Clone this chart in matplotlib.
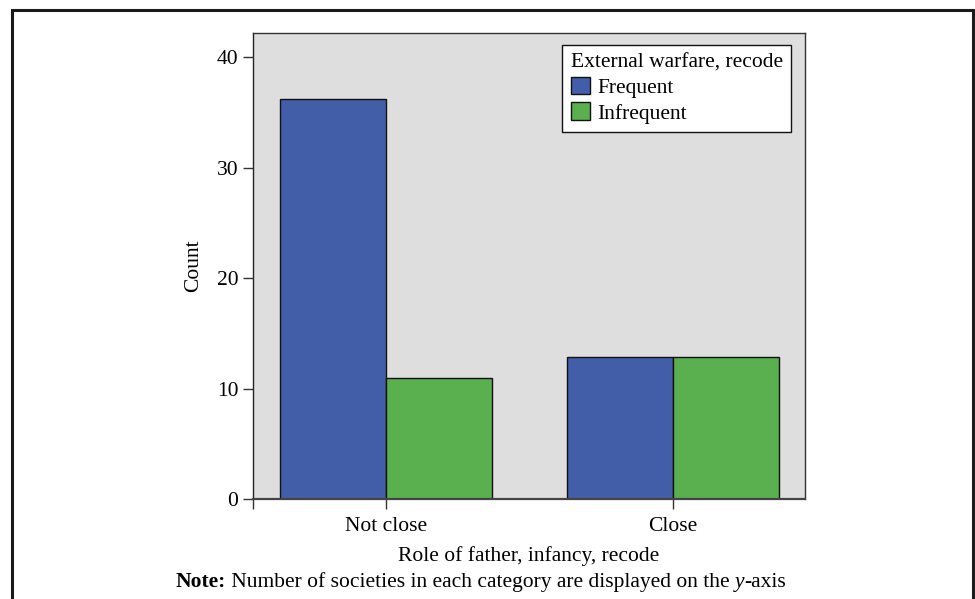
import matplotlib.pyplot as plt
import numpy as np
from matplotlib.patches import Rectangle

plt.rcParams['font.family'] = ['Liberation Serif', 'DejaVu Serif']

# data
categories = ['Not close', 'Close']
frequent = [36.2, 12.9]
infrequent = [11, 12.9]
series_names = ['Frequent', 'Infrequent']
yticks = [0, 10, 20, 30, 40]

fig = plt.figure(figsize=(9.75, 5.99), dpi=100)
ax = fig.add_axes([0.2595, 0.1669, 0.5662, 0.778])
ax.set_facecolor('#dedede')

x = np.arange(len(categories))
w = 0.37
ax.bar(x - w / 2, frequent, w, color='#435ea8', edgecolor='#111111', linewidth=1.0,
       label=series_names[0], zorder=2)
ax.bar(x + w / 2, infrequent, w, color='#5ab04f', edgecolor='#111111', linewidth=1.0,
       label=series_names[1], zorder=2)

ax.set_xlim(-0.463, 1.46)
ax.set_ylim(0, 42.2)
ax.set_yticks(yticks)
ax.set_xticks([-0.463] + list(x))
ax.set_xticklabels([''] + categories)
ax.tick_params(axis='both', labelsize=15.5, length=7, width=1.0, color='#333333',
               direction='out')
ax.tick_params(axis='x', pad=6)

for s in ['top', 'right']:
    ax.spines[s].set_color('#333333')
    ax.spines[s].set_linewidth(1.0)
ax.spines['left'].set_color('#222222')
ax.spines['left'].set_linewidth(1.0)
ax.spines['bottom'].set_color('#444444')
ax.spines['bottom'].set_linewidth(1.6)

ax.set_ylabel('Count', fontsize=15.5, labelpad=10)
ax.set_xlabel('Role of father, infancy, recode', fontsize=15.5, labelpad=7)

leg = ax.legend(title='External warfare, recode', loc='upper right',
                bbox_to_anchor=(0.975, 0.975), borderaxespad=0, fontsize=15.5,
                title_fontsize=15.5, frameon=True, fancybox=False,
                edgecolor='#111111', facecolor='white', framealpha=1,
                handlelength=0.9, handleheight=0.9, handletextpad=0.35,
                labelspacing=0.2, borderpad=0.4, alignment='left')
leg.get_frame().set_linewidth(1.0)

# note line built from pieces (bold / normal / italic / normal)
parts = [('Note:', 'bold', 'normal'),
         (' Number of societies in each category are displayed on the ', 'normal', 'normal'),
         ('y', 'normal', 'italic'),
         ('-axis', 'normal', 'normal')]
renderer = fig.canvas.get_renderer()
texts = []
for s, wt, st in parts:
    t = fig.text(0, 0.028, s, fontsize=15.5, fontweight=wt, fontstyle=st,
                 ha='left', va='center')
    texts.append(t)
widths = [t.get_window_extent(renderer).width for t in texts]
xpos = 481 - sum(widths) / 2
for t, wd in zip(texts, widths):
    t.set_x(xpos / 975)
    xpos += wd

# outer frame
fig.patches.append(Rectangle((12 / 975, -0.05), (973 - 12) / 975, 1.05 - 10 / 599,
                             transform=fig.transFigure, fill=False,
                             edgecolor='#1a1a1a', linewidth=2.2))

fig.savefig('out.png', dpi=100)
